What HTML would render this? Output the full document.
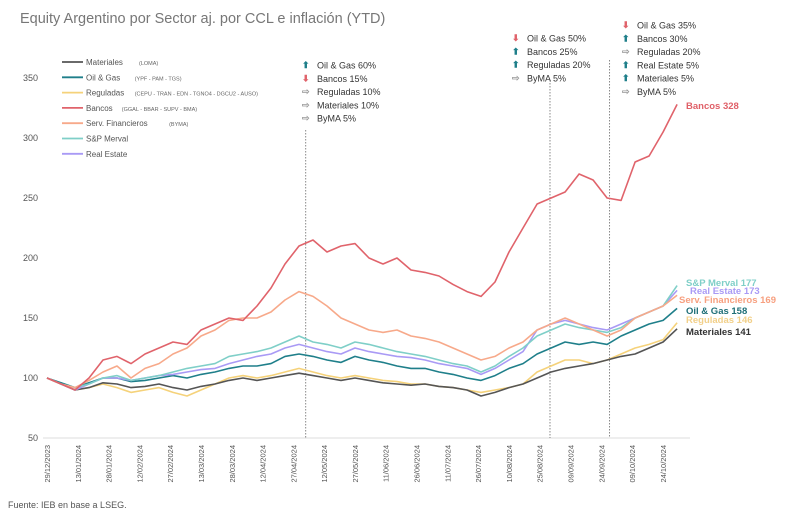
<!DOCTYPE html>
<html><head><meta charset="utf-8">
<style>
html,body{margin:0;padding:0;background:#fff;}
body{width:800px;height:526px;overflow:hidden;font-family:"Liberation Sans",sans-serif;}
svg text{font-family:"Liberation Sans",sans-serif;}
</style></head>
<body>
<svg id="chart" width="800" height="526" viewBox="0 0 800 526" xmlns="http://www.w3.org/2000/svg">
<text x="20" y="23" font-size="14.5" fill="#777">Equity Argentino por Sector aj. por CCL e inflación (YTD)</text>
<text x="8" y="508" font-size="9" fill="#555">Fuente: IEB en base a LSEG.</text>
<g id="axes"></g>
<g id="vlines"></g>
<g id="series"></g>
<g id="labels"></g>
<g id="legend"></g>
<g id="notes"></g>
</svg>
<script>
const yTicks=[50,100,150,200,250,300,350];
const xTickLabels=["29/12/2023","13/01/2024","28/01/2024","12/02/2024","27/02/2024","13/03/2024","28/03/2024","12/04/2024","27/04/2024","12/05/2024","27/05/2024","11/06/2024","26/06/2024","11/07/2024","26/07/2024","10/08/2024","25/08/2024","09/09/2024","24/09/2024","09/10/2024","24/10/2024"];
const xTickDays=[0,15,30,45,60,75,90,105,120,135,150,165,180,195,210,225,240,255,270,285,300];
const rebalanceDays=[126,245,274];
const seriesNames=["Materiales","Oil & Gas","Reguladas","Bancos","Serv. Financieros","S&P Merval","Real Estate"];
const bancos=[100,95,90,100,115,118,112,120,125,130,128,140,145,150,148,160,175,195,210,215,205,210,212,200,195,200,190,188,185,178,172,168,180,205,225,245,250,255,270,265,250,248,280,285,305,328];
const servFin=[100,95,92,98,105,110,100,108,112,120,125,135,140,148,150,150,155,165,172,168,160,150,145,140,138,140,135,133,130,125,120,115,118,125,130,140,145,150,145,140,135,140,150,155,160,169];
const merval=[100,95,92,95,100,102,98,100,102,105,108,110,112,118,120,122,125,130,135,130,128,125,130,128,125,122,120,118,115,112,110,105,110,118,125,135,140,145,142,140,138,142,150,155,160,177];
const realEstate=[100,95,90,95,100,100,98,100,102,103,105,107,108,112,115,118,120,125,128,125,122,120,125,122,120,118,117,115,112,110,108,103,108,115,122,140,145,148,145,142,140,145,150,155,160,173];
const oilGas=[100,96,92,96,100,100,97,98,100,102,100,103,105,108,110,110,112,118,120,118,115,113,118,115,113,110,108,108,105,103,100,98,102,108,112,120,125,130,128,130,128,135,140,145,148,158];
const reguladas=[100,95,90,92,95,92,88,90,92,88,85,90,95,100,102,100,102,105,108,105,102,100,102,100,98,97,95,95,93,92,90,88,90,92,95,105,110,115,115,112,115,120,125,128,132,146];
const materiales=[100,95,90,92,96,95,92,93,95,92,90,93,95,98,100,98,100,102,104,102,100,98,100,98,96,95,94,95,93,92,90,85,88,92,95,100,105,108,110,112,115,118,120,125,130,141];

const NS="http://www.w3.org/2000/svg";
const X=d=>47+d*2.053;
const Y=v=>378-(v-100)*1.2;
const STEP=6.82;
function mk(tag,attrs,parent,text){const e=document.createElementNS(NS,tag);for(const k in attrs)e.setAttribute(k,attrs[k]);if(text!==undefined)e.textContent=text;parent.appendChild(e);return e;}
const axes=document.getElementById('axes');
const xl=mk('line',{x1:43,x2:690,y1:Y(50),y2:Y(50),stroke:'#ddd','stroke-width':1},axes);


yTicks.forEach(v=>{const t=mk('text',{x:38,y:Y(v)+3,'font-size':9,fill:'#555','text-anchor':'end'},axes,String(v));

});
xTickLabels.forEach((s,i)=>{const x=X(xTickDays[i]);const t=mk('text',{x:0,y:0,'font-size':7.5,fill:'#555','text-anchor':'end',transform:`translate(${x+3},445) rotate(-90)`},axes,s);

});
const vl=document.getElementById('vlines');
rebalanceDays.forEach(d=>{const l=mk('line',{x1:X(d),x2:X(d),y1:(d===126?130:d===245?80:60),y2:Y(50),stroke:'#888','stroke-width':1,'stroke-dasharray':'1.5,1.5'},vl);

});
const colors=["#555555","#1f7f8a","#f5d27a","#e0636b","#f7a98a","#7fcfc8","#a99af5"];
const data=[materiales,oilGas,reguladas,bancos,servFin,merval,realEstate];
const sg=document.getElementById('series');
const order=[2,0,1,6,5,4,3];
order.forEach(i=>{const pts=data[i].map((v,j)=>`${X(j*STEP).toFixed(1)},${Y(v).toFixed(1)}`).join(' ');
const p=mk('polyline',{points:pts,fill:'none',stroke:colors[i],'stroke-width':1.6,'stroke-linejoin':'round'},sg);

});
const endLabels=[["Materiales 141",332,"#333"],["Oil & Gas 158",311,"#1f6f78"],["Reguladas 146",320,"#f2d08a"],["Bancos 328",106,"#e06068"],["Serv. Financieros 169",300,"#f7a080"],["S&P Merval 177",283,"#7fcfc8"],["Real Estate 173",291,"#a99af5"]];
const lg=document.getElementById('labels');
endLabels.forEach(([s,y,c],i)=>{const t=mk('text',{x:i===4?679:(i===6?690:686),y:y+3,'font-size':9.5,'font-weight':'bold',fill:c},lg,s);

});
const legendText=[["Materiales","(LOMA)"],["Oil & Gas","(YPF - PAM - TGS)"],["Reguladas","(CEPU - TRAN - EDN - TGNO4 - DGCU2 - AUSO)"],["Bancos","(GGAL - BBAR - SUPV - BMA)"],["Serv. Financieros","(BYMA)"],["S&P Merval",""],["Real Estate",""]];
const leg=document.getElementById('legend');
legendText.forEach(([n,s],i)=>{const y=62+i*15.3;
const l=mk('line',{x1:62,x2:83,y1:y,y2:y,stroke:colors[i],'stroke-width':1.8},leg);


const t=mk('text',{x:86,y:y+3,'font-size':8,fill:'#555'},leg,n);


if(s){const t2=mk('text',{x:86+n.length*4.3+10,y:y+3,'font-size':5.5,fill:'#666'},leg,s);

}});
const notes=[[302,65,[["up","Oil & Gas 60%"],["down","Bancos 15%"],["eq","Reguladas 10%"],["eq","Materiales 10%"],["eq","ByMA 5%"]]],
[512,38,[["down","Oil & Gas 50%"],["up","Bancos 25%"],["up","Reguladas 20%"],["eq","ByMA 5%"]]],
[622,25,[["down","Oil & Gas 35%"],["up","Bancos 30%"],["eq","Reguladas 20%"],["up","Real Estate 5%"],["up","Materiales 5%"],["eq","ByMA 5%"]]]];
const ng=document.getElementById('notes');
notes.forEach(([x,y0,rows])=>rows.forEach(([k,s],i)=>{const y=y0+i*13.3;
const sym=k==='up'?'⬆':k==='down'?'⬇':'⇨';const c=k==='up'?'#1f7f8a':k==='down'?'#e0636b':'#999';
const a=mk('text',{x:x,y:y+3,'font-size':9,fill:c,'font-weight':'bold'},ng,sym);


const t=mk('text',{x:x+15,y:y+3.5,'font-size':9,fill:'#333'},ng,s);

}));
</script>
</body></html>
